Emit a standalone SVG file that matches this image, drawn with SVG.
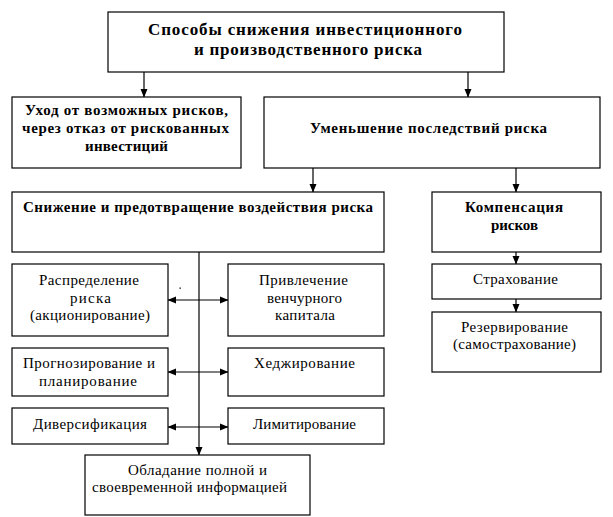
<svg xmlns="http://www.w3.org/2000/svg" width="613" height="517" viewBox="0 0 613 517">
<style>
.box{fill:#fff;stroke:#000;stroke-width:1.2}
.ln{fill:none;stroke:#000;stroke-width:1.2}
text{fill:#000;text-anchor:middle}
.b{font-weight:bold;font-size:15px}
.t{font-weight:bold;font-size:17px}
.r{font-size:15px}
</style>
<defs>
<marker id="ah" markerUnits="userSpaceOnUse" markerWidth="9" markerHeight="8" refX="8" refY="4" orient="auto-start-reverse" viewBox="0 0 9 8">
<path d="M0,0.5 L8.5,4 L0,7.5 z" fill="#000"/>
</marker>
</defs>
<rect width="613" height="517" fill="#fff"/>
<g id="connectors">
<line class="ln" x1="144" y1="72" x2="144" y2="97" marker-end="url(#ah)"/>
<line class="ln" x1="468" y1="72" x2="468" y2="97" marker-end="url(#ah)"/>
<line class="ln" x1="313" y1="168" x2="313" y2="192" marker-end="url(#ah)"/>
<line class="ln" x1="516" y1="168" x2="516" y2="192" marker-end="url(#ah)"/>
<line class="ln" x1="516" y1="252" x2="516" y2="264" marker-end="url(#ah)"/>
<line class="ln" x1="516" y1="299" x2="516" y2="312" marker-end="url(#ah)"/>
<line class="ln" x1="199" y1="252" x2="199" y2="455" marker-end="url(#ah)"/>
<line class="ln" x1="168" y1="300" x2="228" y2="300" marker-start="url(#ah)" marker-end="url(#ah)"/>
<line class="ln" x1="168" y1="372" x2="228" y2="372" marker-start="url(#ah)" marker-end="url(#ah)"/>
<line class="ln" x1="168" y1="427" x2="228" y2="427" marker-start="url(#ah)" marker-end="url(#ah)"/>
</g>
<rect x="179.5" y="287.5" width="1.3" height="1.3" fill="#000"/>
<g font-family="'Liberation Serif', 'DejaVu Serif', serif">
<g id="n-top">
<rect class="box" x="108" y="12" width="396" height="60"/>
<text class="t" x="305" y="35" textLength="314" lengthAdjust="spacing">Способы снижения инвестиционного</text>
<text class="t" x="308" y="55" textLength="228" lengthAdjust="spacing">и производственного риска</text>
</g>
<g id="n-avoid">
<rect class="box" x="12" y="97" width="229" height="71"/>
<text class="b" x="126.5" y="115" textLength="203" lengthAdjust="spacing">Уход от возможных рисков,</text>
<text class="b" x="125.5" y="133" textLength="207" lengthAdjust="spacing">через отказ от рискованных</text>
<text class="b" x="126.5" y="151" textLength="83" lengthAdjust="spacing">инвестиций</text>
</g>
<g id="n-reduce">
<rect class="box" x="264" y="97" width="336" height="71"/>
<text class="b" x="428.5" y="133" textLength="237" lengthAdjust="spacing">Уменьшение последствий риска</text>
</g>
<g id="n-prevent">
<rect class="box" x="12" y="192" width="372" height="60"/>
<text class="b" x="198" y="212" textLength="350" lengthAdjust="spacing">Снижение и предотвращение воздействия риска</text>
</g>
<g id="n-comp">
<rect class="box" x="432" y="192" width="169" height="60"/>
<text class="b" x="514" y="212" textLength="98" lengthAdjust="spacing">Компенсация</text>
<text class="b" x="514.5" y="230" textLength="47" lengthAdjust="spacing">рисков</text>
</g>
<g id="n-distr">
<rect class="box" x="12" y="264" width="156" height="72"/>
<text class="r" x="89" y="285" textLength="100" lengthAdjust="spacing">Распределение</text>
<text class="r" x="90.5" y="302.5" textLength="41" lengthAdjust="spacing">риска</text>
<text class="r" x="90" y="320" textLength="120" lengthAdjust="spacing">(акционирование)</text>
</g>
<g id="n-venture">
<rect class="box" x="228" y="264" width="156" height="72"/>
<text class="r" x="303.5" y="285" textLength="89" lengthAdjust="spacing">Привлечение</text>
<text class="r" x="304.5" y="302.5" textLength="75" lengthAdjust="spacing">венчурного</text>
<text class="r" x="305" y="320" textLength="60" lengthAdjust="spacing">капитала</text>
</g>
<g id="n-forecast">
<rect class="box" x="12" y="348" width="156" height="48"/>
<text class="r" x="89" y="368" textLength="132" lengthAdjust="spacing">Прогнозирование и</text>
<text class="r" x="88" y="386" textLength="98" lengthAdjust="spacing">планирование</text>
</g>
<g id="n-hedge">
<rect class="box" x="228" y="348" width="156" height="48"/>
<text class="r" x="304.5" y="368" textLength="101" lengthAdjust="spacing">Хеджирование</text>
</g>
<g id="n-divers">
<rect class="box" x="12" y="408" width="156" height="36"/>
<text class="r" x="90" y="429" textLength="114" lengthAdjust="spacing">Диверсификация</text>
</g>
<g id="n-limit">
<rect class="box" x="228" y="408" width="156" height="36"/>
<text class="r" x="304.5" y="429" textLength="103" lengthAdjust="spacing">Лимитирование</text>
</g>
<g id="n-info">
<rect class="box" x="85" y="455" width="225" height="60"/>
<text class="r" x="197.5" y="475" textLength="139" lengthAdjust="spacing">Обладание полной и</text>
<text class="r" x="189.5" y="492" textLength="195" lengthAdjust="spacing">своевременной информацией</text>
</g>
<g id="n-insur">
<rect class="box" x="432" y="264" width="169" height="35"/>
<text class="r" x="515.5" y="284" textLength="85" lengthAdjust="spacing">Страхование</text>
</g>
<g id="n-reserve">
<rect class="box" x="432" y="312" width="169" height="60"/>
<text class="r" x="514.5" y="331.5" textLength="107" lengthAdjust="spacing">Резервирование</text>
<text class="r" x="514.5" y="349" textLength="123" lengthAdjust="spacing">(самострахование)</text>
</g>
</g>
</svg>
